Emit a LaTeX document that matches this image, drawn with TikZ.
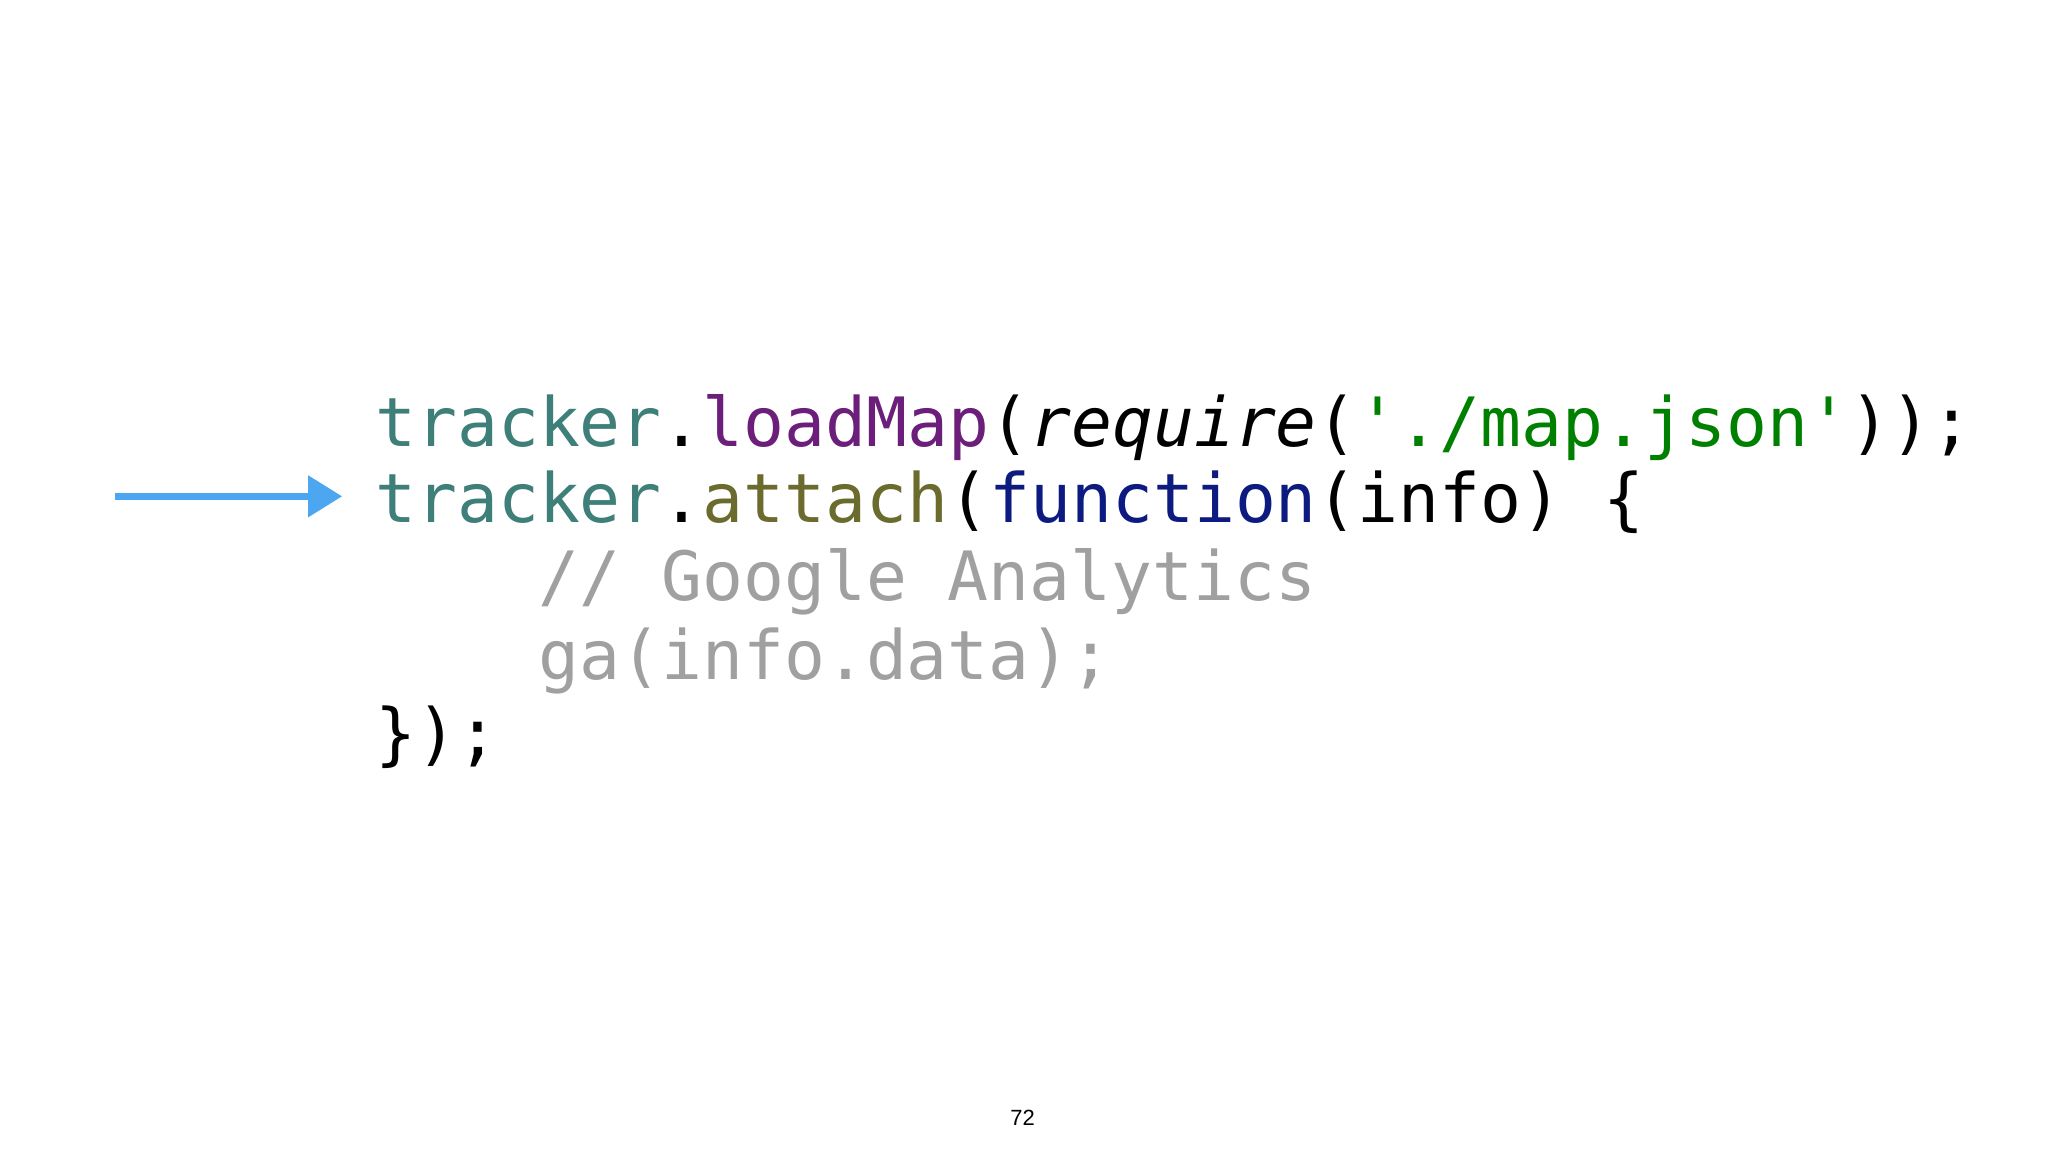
\documentclass[tikz,border=0pt]{standalone}
\usepackage{fontspec}
\setmonofont{DejaVu Sans Mono}
\newfontfamily\pagefont{Liberation Sans}
\usetikzlibrary{arrows.meta}
\definecolor{cteal}{HTML}{3E7F7A}
\definecolor{cpurple}{HTML}{6B1F7A}
\definecolor{colive}{HTML}{6B6B2E}
\definecolor{cnavy}{HTML}{0D1A80}
\definecolor{cgreen}{HTML}{008000}
\definecolor{cgrey}{HTML}{A0A0A0}
\definecolor{carrow}{HTML}{4DA6F0}
\tikzset{code/.style={anchor=base west,inner sep=0pt,font=\ttfamily\fontsize{34}{40}\selectfont}}
\begin{document}
\begin{tikzpicture}[x=0.653pt,y=-0.653pt]
\useasboundingbox[fill=white] (0,0) rectangle (1568,882);
\node[code] (l1) at (287,342) {\textcolor{cteal}{tracker}.\textcolor{cpurple}{loadMap}(\textit{require}(\textcolor{cgreen}{'./map.json'}));};
\node[code] (l2) at (287,400) {\textcolor{cteal}{tracker}.\textcolor{colive}{attach}(\textcolor{cnavy}{function}(info) \{};
\node[code,text=cgrey] (l3) at (412,460) {// Google Analytics};
\node[code,text=cgrey] (l4) at (412,520) {ga(info.data);};
\node[code] (l5) at (287,580) {\});};
\coordinate (a0) at (88,380);
\coordinate (a1) at (262,380);
\draw[carrow,line width=3.5pt,-{Triangle[length=17pt,width=20pt]}] (a0) -- (a1);
\node[font=\pagefont\fontsize{11}{13}\selectfont] (pg) at (783,856) {72};
\end{tikzpicture}
\end{document}
